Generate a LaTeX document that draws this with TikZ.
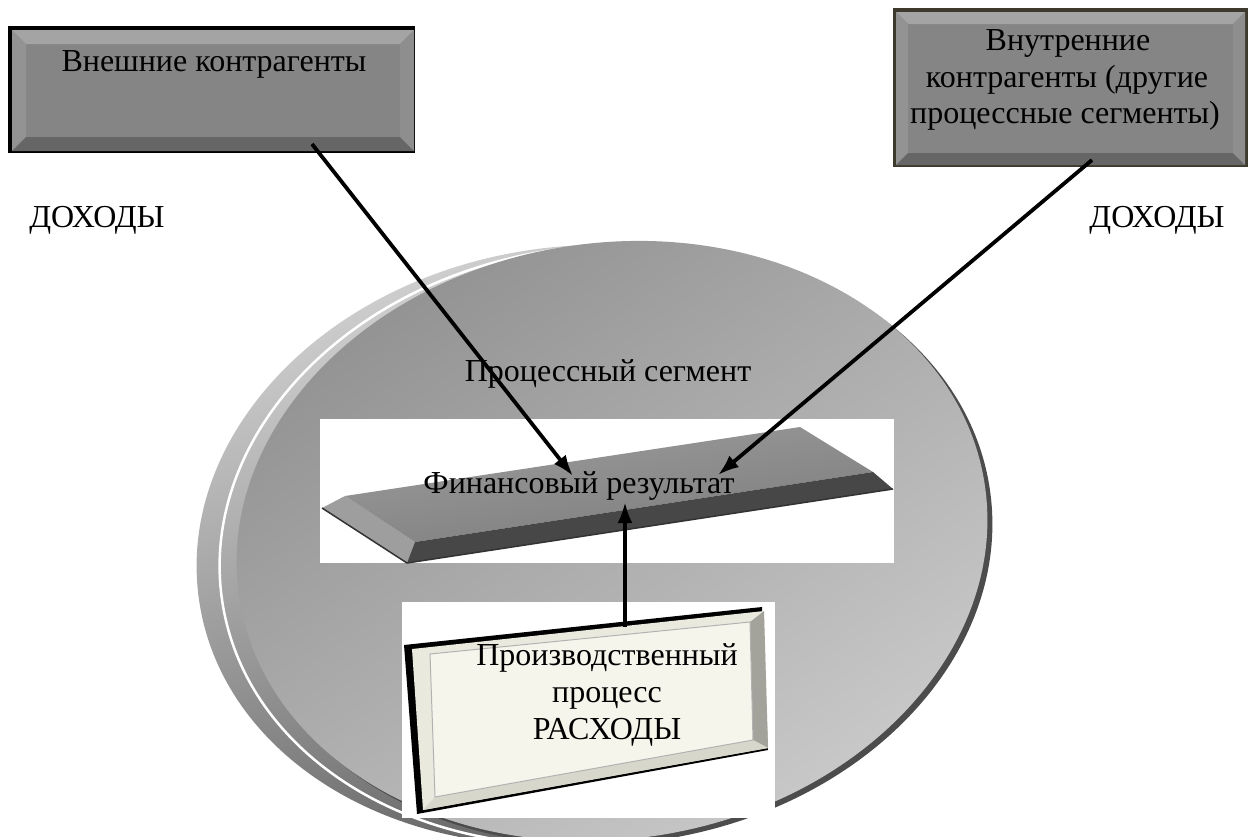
\documentclass[tikz,border=0pt]{standalone}
\usepackage{fontspec}
\setmainfont{Liberation Serif}
\usetikzlibrary{arrows.meta}

\definecolor{rimhi}{HTML}{D0D0D0}
\definecolor{rimlo}{HTML}{555555}
\definecolor{diskdark}{HTML}{929292}
\definecolor{disklight}{HTML}{CBCBCB}
\definecolor{diskedge}{HTML}{4C4C4C}
\definecolor{boxface}{HTML}{858585}
\definecolor{bevtop}{HTML}{A4A4A4}
\definecolor{bevleft}{HTML}{939393}
\definecolor{bevbot}{HTML}{666666}
\definecolor{bevright}{HTML}{8E8E8E}
\definecolor{slabtop}{HTML}{8A8A8A}
\definecolor{slabside}{HTML}{9E9E9E}
\definecolor{slabband}{HTML}{474747}
\definecolor{cream}{HTML}{F6F5EC}
\definecolor{creamframe}{HTML}{EAE9DE}
\definecolor{creambev}{HTML}{A3A39B}
\definecolor{creamlow}{HTML}{D8D7CB}

% bevelled panel: x1, y1, x2, y2, bevel depth
\newcommand\bevelpanel[5]{%
  \fill[boxface] (#1,#2) rectangle (#3,#4);
  \fill[bevtop] (#1,#2) -- (#3,#2) -- ({#3-#5},{#2+#5}) -- ({#1+#5},{#2+#5}) -- cycle;
  \fill[bevleft] (#1,#2) -- ({#1+#5},{#2+#5}) -- ({#1+#5},{#4-#5}) -- (#1,#4) -- cycle;
  \fill[bevbot] (#1,#4) -- ({#1+#5},{#4-#5}) -- ({#3-#5},{#4-#5}) -- (#3,#4) -- cycle;
  \fill[bevright] (#3,#2) -- (#3,#4) -- ({#3-#5},{#4-#5}) -- ({#3-#5},{#2+#5}) -- cycle;
}

\begin{document}
\begin{tikzpicture}[x=1pt,y=-1pt,
  lbl/.style={font=\fontsize{32}{37}\selectfont, inner sep=0pt, anchor=base},
  flow/.style={line width=3.8pt, -{Latex[length=21pt,width=15pt]}},
  disk/.style={rotate around={8.7:#1}},
  disksize/.style={x radius=377, y radius=298},
]
\useasboundingbox (0,0) rectangle (1250,836);
\fill[white] (0,0) rectangle (1250,836);

% ---- the process segment disk ----
\shade[disk={(572,545)}, top color=rimhi, bottom color=rimlo, shading angle=20]
  (572,545) ellipse [disksize];
\shade[disk={(595,545)}, top color=rimhi, bottom color=rimlo, shading angle=20,
  draw=white, line width=2.5pt]
  (595,545) ellipse [disksize];
\fill[disk={(617,545)}, diskedge] (617,545) ellipse [disksize];
\shade[disk={(612,541)}, top color=diskdark, bottom color=disklight, shading angle=35]
  (612,541) ellipse [disksize];
\node[lbl] (seg) at (608,381) {Процессный сегмент};

% ---- financial result slab ----
\fill[white] (320,419) rectangle (894,563);
\fill[slabside] (322,508) -- (345,496) -- (415,542) -- (407,563) -- cycle;
\shade[top color=slabtop!85!white, bottom color=slabtop!90!black, shading angle=8]
  (345,496) -- (800,427) -- (873,472) -- (415,542) -- cycle;
\fill[slabband] (415,542) -- (873,472) -- (893,489) -- (407,563) -- cycle;
\draw[black!80, line width=1.5pt] (322,508) -- (407,563) -- (893,489);
\node[lbl] (fin) at (579,493) {Финансовый результат};

% ---- production process panel ----
\fill[white] (402,602) rectangle (775,818);
\fill[black] (404,645) -- (762,607) -- (768,750) -- (417,814) -- cycle;
\fill[creamframe] (412,649) -- (764,611) -- (768,748) -- (423,810) -- cycle;
\fill[creambev] (750,622) -- (764,611) -- (768,748) -- (753,740) -- cycle;
\fill[creamlow] (435,797) -- (753,740) -- (768,748) -- (423,810) -- cycle;
\fill[cream, draw=black!30, line width=1pt] (430,654) -- (750,622) -- (753,740) -- (435,797) -- cycle;
\node[lbl] (prod1) at (607,665) {Производственный};
\node[lbl] (prod2) at (607,702) {процесс};
\node[lbl] (prod3) at (607,739) {РАСХОДЫ};

% ---- external counterparties ----
\fill[black] (8,26) rectangle (415,153);
\bevelpanel{12}{30}{414}{151}{14}
\node[lbl] (ext) at (214,71) {Внешние контрагенты};

% ---- internal counterparties ----
\fill[black!75!olive] (893,8) rectangle (1248,167);
\bevelpanel{896}{12}{1245}{165}{12}
\node[lbl] (int1) at (1068,50) {Внутренние};
\node[lbl] (int2) at (1067,87) {контрагенты (другие};
\node[lbl] (int3) at (1065,123) {процессные сегменты)};

% ---- income labels ----
\node[lbl] (incL) at (97,227) {ДОХОДЫ};
\node[lbl] (incR) at (1157,227) {ДОХОДЫ};

% ---- flows ----
\coordinate (extOut) at (312,144);
\coordinate (intOut) at (1092,160);
\coordinate (prodOut) at (625,627);
\coordinate (finL) at (573,476);
\coordinate (finR) at (718,475);
\coordinate (finB) at (625,502);
\draw[flow] (extOut) -- (finL);
\draw[flow] (intOut) -- (finR);
\draw[flow] (prodOut) -- (finB);
\end{tikzpicture}
\end{document}
